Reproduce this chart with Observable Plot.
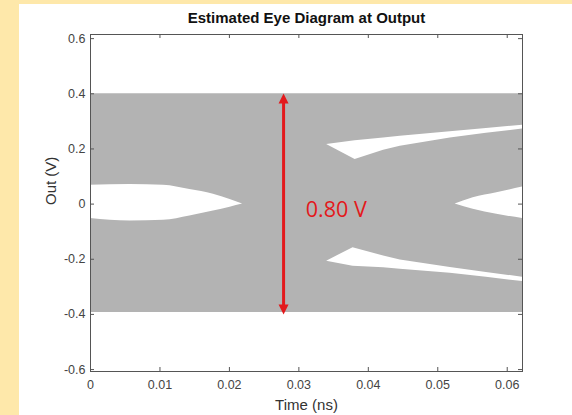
<!DOCTYPE html>
<html><head><meta charset="utf-8">
<script src="https://cdn.jsdelivr.net/npm/d3@7"></script>
<script src="https://cdn.jsdelivr.net/npm/@observablehq/plot@0.6"></script>
<style>
html,body{margin:0;padding:0;background:#fee8aa;}
body{width:572px;height:415px;overflow:hidden;position:relative;}
#panel{position:absolute;left:19px;top:4px;width:553px;height:411px;background:#fff;}
#panel svg{display:block;}
</style></head><body><div id="panel"></div>
<script>
// axis ticks
const xTicks = [0, 0.01, 0.02, 0.03, 0.04, 0.05, 0.06];
const yTicks = [-0.6, -0.4, -0.2, 0, 0.2, 0.4, 0.6];
const xDomain = [0, 0.0622];
const yDomain = [-0.607, 0.615];

// overall signal envelope (gray band)
const bandTime = [0, 0.0622];
const bandLow = [-0.393, -0.393];
const bandHigh = [0.400, 0.400];

// left eye opening
const eyeLTime = [0, 0.0057, 0.0105, 0.0143, 0.0177, 0.0201, 0.0219];
const eyeLTop = [0.068, 0.071, 0.068, 0.053, 0.036, 0.017, 0.0];
const eyeLBot = [-0.052, -0.061, -0.059, -0.043, -0.025, -0.011, 0.0];

// right middle eye opening
const eyeRTime = [0.0525, 0.0551, 0.0585, 0.0622];
const eyeRTop = [0.0, 0.023, 0.041, 0.062];
const eyeRBot = [0.0, -0.019, -0.037, -0.052];

// upper right sliver
const upTime = [0.0340, 0.0381, 0.0422, 0.0446, 0.0518, 0.0570, 0.0622];
const upTop = [0.216, 0.230, 0.240, 0.246, 0.262, 0.274, 0.286];
const upBot = [0.216, 0.162, 0.195, 0.210, 0.240, 0.257, 0.272];

// lower right sliver
const loTime = [0.0340, 0.0378, 0.0422, 0.0446, 0.0518, 0.0570, 0.0622];
const loTop = [-0.207, -0.158, -0.188, -0.203, -0.230, -0.248, -0.265];
const loBot = [-0.207, -0.225, -0.231, -0.236, -0.251, -0.265, -0.281];

// annotation
const arrowTime = [0.0278];
const arrowFrom = [-0.400];
const arrowTo = [0.401];
const annText = ["0.80 V"];
const annTime = [0.0310];
const annValue = [-0.020];

const titleText = "Estimated Eye Diagram at Output";
const xLabel = "Time (ns)";
const yLabel = "Out (V)";

const toRows = (t, lo, hi) => t.map((d, i) => ({t: d, lo: lo[i], hi: hi[i]}));

const W = 553, H = 411, mL = 71, mR = 50, mT = 30, mB = 44;
const innerW = W - mL - mR, innerH = H - mT - mB;
const red = "#e3191c", gray = "#b3b3b3", axisCol = "#555";
const fmt = d => String(+d.toFixed(3));

const upHead = {draw(c) { c.moveTo(0, 0); c.lineTo(5, 10); c.lineTo(-5, 10); c.closePath(); }};
const downHead = {draw(c) { c.moveTo(0, 0); c.lineTo(5, -10); c.lineTo(-5, -10); c.closePath(); }};

const chart = Plot.plot({
  width: W, height: H,
  marginLeft: mL, marginRight: mR, marginTop: mT, marginBottom: mB,
  style: {fontFamily: "'Liberation Sans', Arial, sans-serif", fontSize: "12px", background: "transparent", color: "#444"},
  x: {domain: xDomain, axis: null},
  y: {domain: yDomain, axis: null},
  marks: [
    Plot.areaY(toRows(bandTime, bandLow, bandHigh), {x: "t", y1: "lo", y2: "hi", fill: gray}),
    Plot.areaY(toRows(eyeLTime, eyeLBot, eyeLTop), {x: "t", y1: "lo", y2: "hi", fill: "white", curve: "monotone-x"}),
    Plot.areaY(toRows(eyeRTime, eyeRBot, eyeRTop), {x: "t", y1: "lo", y2: "hi", fill: "white", curve: "monotone-x"}),
    Plot.areaY(toRows(upTime, upBot, upTop), {x: "t", y1: "lo", y2: "hi", fill: "white"}),
    Plot.areaY(toRows(loTime, loBot, loTop), {x: "t", y1: "lo", y2: "hi", fill: "white"}),
    // arrow
    Plot.ruleX(arrowTime, {x: d => d, y1: arrowFrom[0] + 0.02, y2: arrowTo[0] - 0.02, stroke: red, strokeWidth: 3}),
    Plot.dot(arrowTime, {x: d => d, y: arrowTo[0], symbol: upHead, fill: red, stroke: null}),
    Plot.dot(arrowTime, {x: d => d, y: arrowFrom[0], symbol: downHead, fill: red, stroke: null}),
    Plot.text(annText, {x: annTime, y: annValue, text: d => d, textAnchor: "start", fill: red, fontSize: 21.5, fontFamily: "'Open Sans', sans-serif"}),
    // frame and inward ticks
    Plot.frame({stroke: axisCol}),
    Plot.tickX(xTicks, {x: d => d, insetTop: innerH - 4, stroke: axisCol}),
    Plot.tickX(xTicks, {x: d => d, insetBottom: innerH - 4, stroke: axisCol}),
    Plot.tickY(yTicks, {y: d => d, insetRight: innerW - 4, stroke: axisCol}),
    Plot.tickY(yTicks, {y: d => d, insetLeft: innerW - 4, stroke: axisCol}),
    Plot.axisX({ticks: xTicks, tickSize: 0, tickPadding: 9, tickFormat: fmt, label: null, fontSize: 12.5, color: "#444"}),
    Plot.axisY({ticks: yTicks, tickSize: 0, tickPadding: 5, tickFormat: fmt, label: null, fontSize: 12.5, color: "#444"}),
    // titles
    Plot.text([titleText], {frameAnchor: "top", dy: -16, lineAnchor: "middle", fontWeight: "bold", fontSize: 15, fill: "#111"}),
    Plot.text([xLabel], {frameAnchor: "bottom", dy: 34, lineAnchor: "middle", fontSize: 15, fill: "#333"}),
    Plot.text([yLabel], {frameAnchor: "left", dx: -39.5, dy: 2, rotate: -90, lineAnchor: "middle", fontSize: 15, fill: "#333"})
  ]
});
document.getElementById("panel").appendChild(chart);
</script>
</body></html>
